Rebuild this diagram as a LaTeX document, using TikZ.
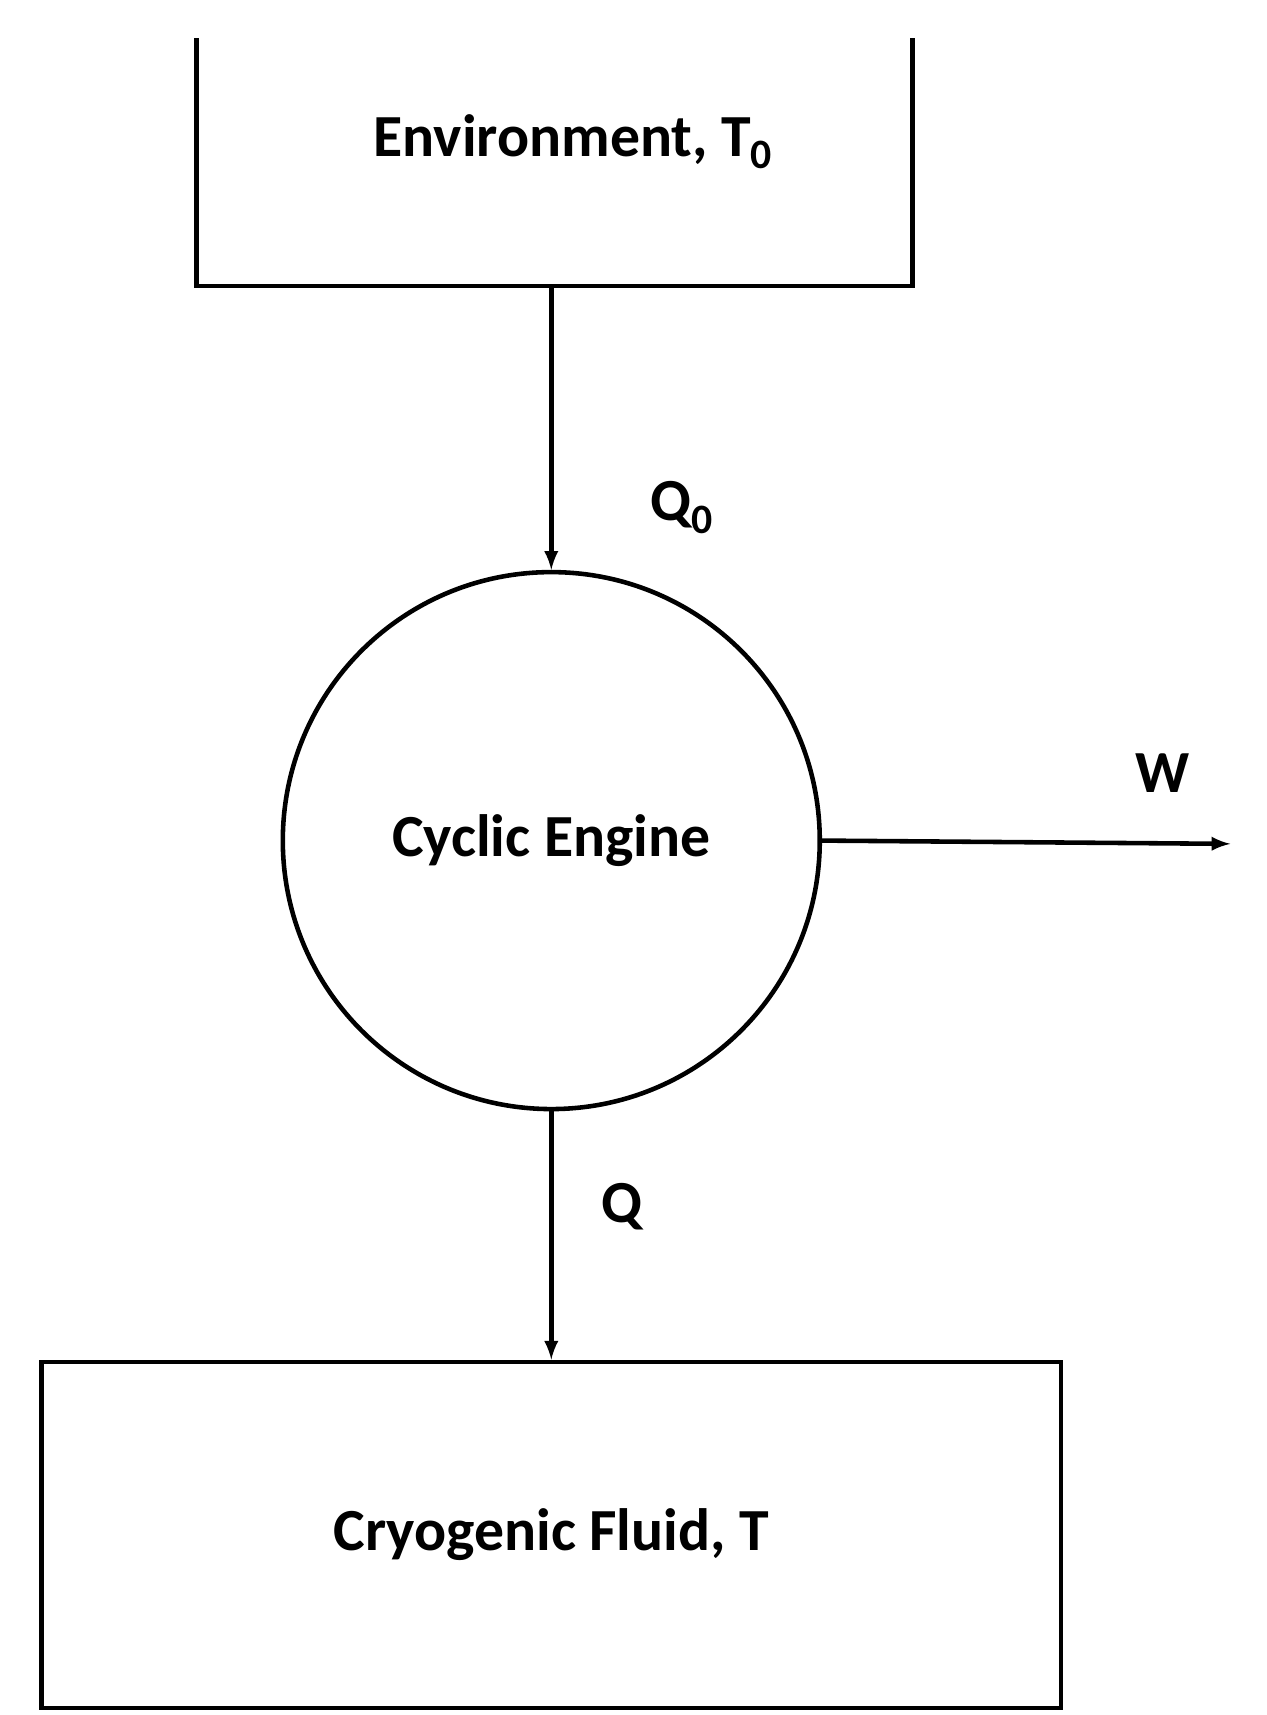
\documentclass[tikz,border=0pt]{standalone}
\usepackage{fontspec}
\setmainfont{Carlito}
\usetikzlibrary{positioning}
\begin{document}
\begin{tikzpicture}[x=0.02183cm,y=-0.02183cm]

	%DEFINICIONES
	\tikzstyle{every node}=[font=\fontsize{34}{40}\selectfont\bfseries]
	\tikzstyle{caja} = [draw, line width=2.6pt, align=center, minimum width=20.39cm, minimum height=6.92cm]
	\tikzstyle{motor} = [draw, circle, line width=2.6pt, align=center, minimum size=10.74cm]
	\tikzstyle{blank} = [align=center, inner sep=0pt, outer sep=0pt]
	\tikzstyle{flecha} = [->, line width=2.6pt, >=latex]
	\tikzstyle{linea} = [line width=2.6pt]

	\useasboundingbox (0,0) rectangle (1160,1571);

	%BLOQUES
	\coordinate (envTL) at (180,35);
	\coordinate (envTR) at (836,35);
	\coordinate (envB) at (505,262);
	\draw [linea] (envTL) |- (envTR |- envB) -- (envTR);
	\draw(525,130) node[blank](env){Environment, T\textsubscript{0}};
	\draw(505,770) node[motor](eng){Cyclic Engine};
	\draw(505,1406) node[caja](cryo){Cryogenic Fluid, T};
	\coordinate (wend) at (1127,773);

	%FLECHAS
	\draw [flecha] (envB) -- (eng.north);
	\draw(625,465) node[blank]{Q\textsubscript{0}};
	\draw [flecha] (eng.south) -- (cryo.north);
	\draw(570,1105) node[blank]{Q};
	\draw [flecha] (eng.east) -- (wend);
	\draw(1065,708) node[blank]{W};
\end{tikzpicture}
\end{document}
